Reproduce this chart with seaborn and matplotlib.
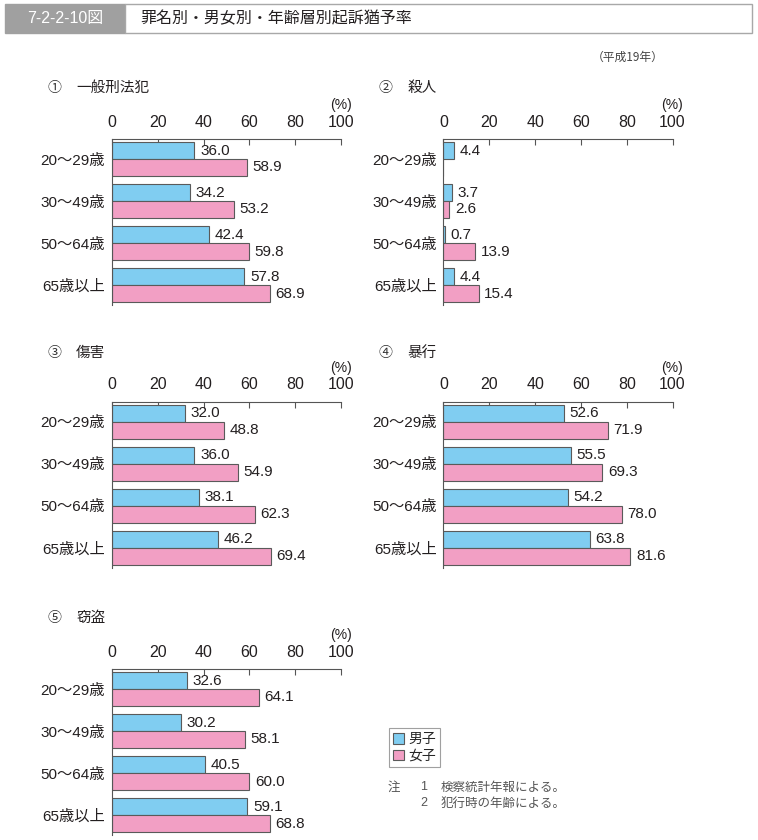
import matplotlib
matplotlib.use("Agg")
import matplotlib.pyplot as plt
import seaborn as sns
import pandas as pd
from matplotlib.patches import Rectangle, Patch

# Data
age_groups = ["20～29歳", "30～49歳", "50～64歳", "65歳以上"]
sexes = ["男子", "女子"]
titles = ["一般刑法犯", "殺人", "傷害", "暴行", "窃盗"]
marks = ["①", "②", "③", "④", "⑤"]

male_general = [36.0, 34.2, 42.4, 57.8]
female_general = [58.9, 53.2, 59.8, 68.9]
male_murder = [4.4, 3.7, 0.7, 4.4]
female_murder = [0.0, 2.6, 13.9, 15.4]
male_injury = [32.0, 36.0, 38.1, 46.2]
female_injury = [48.8, 54.9, 62.3, 69.4]
male_assault = [52.6, 55.5, 54.2, 63.8]
female_assault = [71.9, 69.3, 78.0, 81.6]
male_theft = [32.6, 30.2, 40.5, 59.1]
female_theft = [64.1, 58.1, 60.0, 68.8]

panels = [
    (male_general, female_general),
    (male_murder, female_murder),
    (male_injury, female_injury),
    (male_assault, female_assault),
    (male_theft, female_theft),
]

blue = "#80CDF1"
pink = "#F29FC4"
edge = "#5a5a5a"
text_c = "#231f20"

sns.set_theme(style="white")
plt.rcParams["font.family"] = ["Liberation Sans", "Noto Sans CJK JP", "DejaVu Sans"]

W, H = 758, 840
fig = plt.figure(figsize=(W / 100, H / 100), dpi=100)


def fx(x):
    return x / W


def fy(y):
    return 1 - y / H


# header
fig.patches.append(Rectangle((fx(5), fy(33)), fx(120), 29 / H, transform=fig.transFigure,
                             facecolor="#a0a0a0", edgecolor="#a0a0a0", lw=1))
fig.patches.append(Rectangle((fx(125), fy(33)), fx(627), 29 / H, transform=fig.transFigure,
                             facecolor="white", edgecolor="#a8a8a8", lw=1))
fig.text(fx(65), fy(19), "7-2-2-10図", color="white", fontsize=11.5, ha="center", va="center")
fig.text(fx(140), fy(19), "罪名別・男女別・年齢層別起訴猶予率", color=text_c, fontsize=11.5,
         ha="left", va="center", family=["Noto Sans CJK JP"])
fig.text(fx(628), fy(57), "（平成19年）", color="#444444", fontsize=8.5, ha="center", va="center",
         family=["Noto Sans CJK JP"])

# panel positions: (left px, top px, title y px)
positions = [(112, 139.3, 88), (443.5, 139.3, 88), (112, 402, 353), (443.5, 402, 353), (112, 669.3, 618)]
aw, ah = 229, 166

for i, ((male, female), (left, top, ty)) in enumerate(zip(panels, positions)):
    ax = fig.add_axes([fx(left), fy(top + ah), aw / W, ah / H])
    df = pd.DataFrame({
        "age": age_groups * 2,
        "sex": [sexes[0]] * 4 + [sexes[1]] * 4,
        "rate": male + female,
    })
    sns.barplot(data=df, x="rate", y="age", hue="sex", orient="h", order=age_groups,
                hue_order=sexes, palette=[blue, pink], saturation=1, edgecolor=edge,
                linewidth=0.8, width=0.8, ax=ax, legend=False)
    for cont, vals in zip(ax.containers, (male, female)):
        labels = [f"{v:.1f}" if v > 0 else "" for v in vals]
        ax.bar_label(cont, labels=labels, padding=4, fontsize=11, color=text_c)
    ax.set_xlim(0, 100)
    ax.set_ylim(3.48, -0.47)
    ax.set_xticks([0, 20, 40, 60, 80, 100])
    ax.xaxis.tick_top()
    ax.tick_params(axis="x", direction="in", length=4, width=0.8, color="#555555",
                   pad=7, labelsize=11.5, labelcolor=text_c, top=True, bottom=False)
    ax.tick_params(axis="y", length=0, pad=5, labelsize=11, labelcolor=text_c)
    ax.set_xlabel("")
    ax.set_ylabel("")
    for s in ["right", "bottom"]:
        ax.spines[s].set_visible(False)
    for s in ["top", "left"]:
        ax.spines[s].set_color("#555555")
        ax.spines[s].set_linewidth(0.8)
    # (%) label
    fig.text(fx(left + aw), fy(top - 34), "(%)", fontsize=10, ha="center", va="center", color=text_c)
    # panel title
    fig.text(fx(left - 58), fy(ty), marks[i], fontsize=10, ha="center", va="center", color="#333333",
             family=["Noto Sans CJK JP"])
    fig.text(fx(left - 36), fy(ty), titles[i], fontsize=10.5, ha="left", va="center", color=text_c,
             family=["Noto Sans CJK JP"])

# legend
handles = [Patch(facecolor=blue, edgecolor=edge, lw=0.8), Patch(facecolor=pink, edgecolor=edge, lw=0.8)]
leg = fig.legend(handles, sexes, loc="upper left", bbox_to_anchor=(fx(389), fy(728)),
                 frameon=True, fancybox=False, borderpad=0.3, handlelength=0.8,
                 handleheight=0.8, handletextpad=0.3, labelspacing=0.2, borderaxespad=0,
                 prop={"family": ["Noto Sans CJK JP"], "size": 10})
leg.get_frame().set_edgecolor("#888888")
leg.get_frame().set_linewidth(0.8)

# notes
note_c = "#555555"
fig.text(fx(388), fy(787), "注", fontsize=9, ha="left", va="center", color=note_c, family=["Noto Sans CJK JP"])
fig.text(fx(420), fy(787), "1", fontsize=9, ha="left", va="center", color=note_c)
fig.text(fx(441), fy(787), "検察統計年報による。", fontsize=9, ha="left", va="center", color=note_c,
         family=["Noto Sans CJK JP"])
fig.text(fx(420), fy(803), "2", fontsize=9, ha="left", va="center", color=note_c)
fig.text(fx(441), fy(803), "犯行時の年齢による。", fontsize=9, ha="left", va="center", color=note_c,
         family=["Noto Sans CJK JP"])

fig.savefig("out.png", dpi=100, facecolor="white")
